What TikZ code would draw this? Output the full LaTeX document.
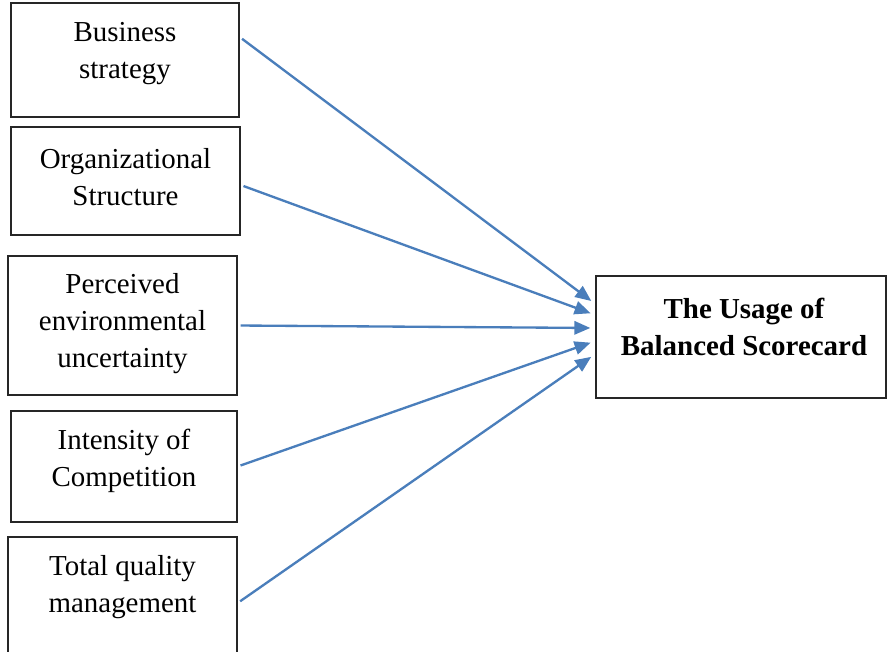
\documentclass[tikz,border=0pt]{standalone}
\usepackage{fontspec}
\setmainfont{Liberation Serif}
\usetikzlibrary{arrows.meta, positioning, calc}
\definecolor{arrowblue}{HTML}{4A7EBB}

\begin{document}
\begin{tikzpicture}[
    x=0.03cm, y=-0.03cm,
    >={Triangle[length=0.48cm, width=0.4cm]},
    block/.style={draw=black!85, line width=0.04cm, inner sep=0pt},
    caption/.style={align=center, inner sep=0pt, font=\fontsize{24.7pt}{31.6pt}\selectfont},
    link/.style={->, draw=arrowblue, line width=0.07cm, shorten <=0.09cm, shorten >=0.15cm}
]

\clip (0, 0) rectangle (887, 652);

% factor boxes
\node (Strategy) at (125, 60) [block, minimum width=6.84cm, minimum height=3.42cm] {};
\node (Structure) at (125.5, 181) [block, minimum width=6.87cm, minimum height=3.24cm] {};
\node (Uncertainty) at (122.5, 325.5) [block, minimum width=6.87cm, minimum height=4.17cm] {};
\node (Competition) at (124, 466.5) [block, minimum width=6.78cm, minimum height=3.33cm] {};
\node (Quality) at (122.5, 601) [block, minimum width=6.87cm, minimum height=3.84cm] {};

\node (StrategyText) at (125, 53.5) [caption] {Business\\strategy};
\node (StructureText) at (125.5, 177.5) [caption] {Organizational\\Structure};
\node (UncertaintyText) at (122.5, 323.5) [caption] {Perceived\\environmental\\uncertainty};
\node (CompetitionText) at (124, 461) [caption] {Intensity of\\Competition};
\node (QualityText) at (122.5, 587) [caption] {Total quality\\management};

% outcome box
\node (BSC) at (741, 337) [block, minimum width=8.7cm, minimum height=3.66cm] {};
\node (BSCText) at (744, 326.5) [caption, font=\fontsize{24.7pt}{31.6pt}\selectfont\bfseries] {The Usage of\\Balanced Scorecard};

\draw[link] ($(Strategy.east)+(0, -23)$) -- ($(BSC.west)+(0, -33)$);
\draw[link] ($(Structure.east)+(0, 4)$) -- ($(BSC.west)+(0, -22)$);
\draw[link] (Uncertainty.east) -- ($(BSC.west)+(0, -9)$);
\draw[link] (Competition.east) -- ($(BSC.west)+(0, 4)$);
\draw[link] ($(Quality.east)+(0, 2)$) -- ($(BSC.west)+(0, 17)$);

\end{tikzpicture}
\end{document}
